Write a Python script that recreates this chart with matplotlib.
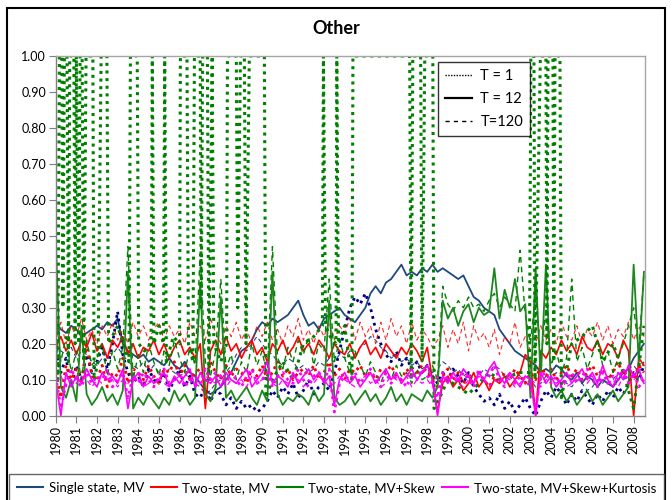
import numpy as np
import matplotlib.pyplot as plt
from matplotlib.lines import Line2D
from matplotlib.patches import Rectangle

plt.rcParams['font.family'] = ['Lato', 'DejaVu Sans']

# quarterly observations, 1980Q1 .. 2008Q3
years = np.arange(1980, 2008.51, 0.25)

# Single state, MV
single_t1 = [0.18, 0.12, 0.16, 0.08, 0.14, 0.10, 0.17, 0.12, 0.15, 0.19, 0.13, 0.20,
             0.29, 0.17, 0.12, 0.09, 0.11, 0.08, 0.13, 0.10, 0.09, 0.12, 0.07, 0.10,
             0.13, 0.08, 0.11, 0.06, 0.05, 0.08, 0.04, 0.07, 0.06, 0.03, 0.05, 0.02,
             0.04, 0.02, 0.03, 0.01, 0.02, 0.04, 0.07, 0.05, 0.08, 0.06, 0.09, 0.05,
             0.07, 0.10, 0.06, 0.08, 0.09, 0.07, 0.12, 0.18, 0.24, 0.30, 0.33, 0.31,
             0.34, 0.30, 0.24, 0.20, 0.17, 0.15, 0.18, 0.14, 0.16, 0.13, 0.15, 0.12,
             0.14, 0.11, 0.09, 0.12, 0.10, 0.13, 0.11, 0.09, 0.12, 0.08, 0.06, 0.04,
             0.05, 0.03, 0.06, 0.02, 0.04, 0.01, 0.03, 0.05, 0.02, 0.00, 0.04, 0.07,
             0.05, 0.08, 0.06, 0.03, 0.06, 0.04, 0.07, 0.05, 0.03, 0.06, 0.04, 0.07,
             0.05, 0.08, 0.06, 0.09, 0.12, 0.10, 0.14]
single_t12 = [0.26, 0.24, 0.23, 0.25, 0.24, 0.22, 0.23, 0.24, 0.25, 0.24, 0.26, 0.25,
              0.27, 0.20, 0.18, 0.17, 0.16, 0.17, 0.15, 0.16, 0.15, 0.14, 0.16, 0.14,
              0.13, 0.15, 0.12, 0.11, 0.09, 0.07, 0.06, 0.07, 0.08, 0.10, 0.12, 0.15,
              0.18, 0.19, 0.21, 0.24, 0.26, 0.25, 0.27, 0.26, 0.27, 0.28, 0.30, 0.32,
              0.28, 0.25, 0.26, 0.24, 0.27, 0.28, 0.29, 0.30, 0.28, 0.27, 0.26, 0.28,
              0.30, 0.34, 0.36, 0.34, 0.37, 0.38, 0.40, 0.42, 0.39, 0.40, 0.39, 0.41,
              0.40, 0.42, 0.40, 0.41, 0.40, 0.39, 0.38, 0.39, 0.36, 0.33, 0.32, 0.30,
              0.29, 0.28, 0.24, 0.22, 0.20, 0.18, 0.17, 0.16, 0.15, 0.14, 0.12, 0.13,
              0.12, 0.14, 0.13, 0.11, 0.10, 0.12, 0.09, 0.11, 0.10, 0.08, 0.10, 0.09,
              0.08, 0.10, 0.12, 0.13, 0.16, 0.18, 0.20]
single_t120 = [0.20, 0.18, 0.17, 0.19, 0.16, 0.18, 0.17, 0.15, 0.14, 0.16, 0.18, 0.17,
               0.19, 0.17, 0.15, 0.14, 0.13, 0.15, 0.12, 0.14, 0.12, 0.11, 0.13, 0.12,
               0.11, 0.12, 0.10, 0.09, 0.08, 0.06, 0.07, 0.09, 0.10, 0.12, 0.14, 0.17,
               0.19, 0.18, 0.20, 0.22, 0.20, 0.18, 0.17, 0.15, 0.14, 0.16, 0.15, 0.13,
               0.14, 0.12, 0.13, 0.15, 0.14, 0.16, 0.15, 0.17, 0.16, 0.18, 0.17, 0.19,
               0.20, 0.22, 0.21, 0.19, 0.18, 0.16, 0.17, 0.15, 0.16, 0.14, 0.15, 0.13,
               0.14, 0.12, 0.13, 0.15, 0.14, 0.12, 0.13, 0.11, 0.12, 0.10, 0.11, 0.13,
               0.12, 0.14, 0.13, 0.11, 0.10, 0.12, 0.11, 0.09, 0.10, 0.08, 0.09, 0.11,
               0.10, 0.12, 0.11, 0.09, 0.08, 0.10, 0.09, 0.07, 0.08, 0.10, 0.09, 0.11,
               0.10, 0.12, 0.11, 0.13, 0.14, 0.12, 0.15]

# Two-state, MV
mv_t1 = [0.12, 0.05, 0.14, 0.10, 0.13, 0.09, 0.20, 0.11, 0.10, 0.14, 0.08, 0.12,
         0.11, 0.16, 0.09, 0.13, 0.12, 0.10, 0.14, 0.11, 0.09, 0.13, 0.12, 0.15,
         0.11, 0.14, 0.10, 0.12, 0.13, 0.09, 0.15, 0.12, 0.10, 0.14, 0.11, 0.13,
         0.12, 0.09, 0.13, 0.11, 0.14, 0.10, 0.12, 0.15, 0.11, 0.13, 0.10, 0.12,
         0.13, 0.11, 0.14, 0.10, 0.12, 0.15, 0.11, 0.13, 0.10, 0.13, 0.12, 0.14,
         0.11, 0.12, 0.10, 0.13, 0.12, 0.14, 0.11, 0.10, 0.13, 0.11, 0.12, 0.14,
         0.12, 0.10, 0.08, 0.11, 0.13, 0.10, 0.12, 0.09, 0.11, 0.09, 0.12, 0.10,
         0.08, 0.11, 0.09, 0.12, 0.10, 0.13, 0.11, 0.09, 0.12, 0.10, 0.14, 0.11,
         0.13, 0.10, 0.12, 0.14, 0.11, 0.13, 0.10, 0.12, 0.14, 0.11, 0.13, 0.10,
         0.12, 0.15, 0.11, 0.13, 0.10, 0.14, 0.12]
mv_t12 = [0.19, 0.22, 0.18, 0.21, 0.17, 0.21, 0.19, 0.23, 0.18, 0.20, 0.16, 0.21,
          0.19, 0.22, 0.17, 0.20, 0.16, 0.19, 0.18, 0.21, 0.17, 0.20, 0.16, 0.19,
          0.21, 0.17, 0.19, 0.16, 0.20, 0.02, 0.18, 0.21, 0.17, 0.22, 0.18, 0.20,
          0.16, 0.19, 0.21, 0.17, 0.19, 0.15, 0.20, 0.18, 0.21, 0.17, 0.19, 0.22,
          0.18, 0.20, 0.17, 0.21, 0.19, 0.16, 0.20, 0.18, 0.17, 0.20, 0.16, 0.19,
          0.21, 0.17, 0.19, 0.16, 0.20, 0.18, 0.16, 0.19, 0.17, 0.20, 0.18, 0.15,
          0.19, 0.10, 0.01, 0.09, 0.11, 0.08, 0.10, 0.07, 0.09, 0.12, 0.08, 0.10,
          0.07, 0.10, 0.09, 0.11, 0.08, 0.10, 0.12, 0.17, 0.15, 0.00, 0.18, 0.16,
          0.19, 0.17, 0.21, 0.18, 0.20, 0.17, 0.22, 0.19, 0.18, 0.21, 0.17, 0.20,
          0.19, 0.16, 0.21, 0.18, 0.00, 0.16, 0.14]
mv_t120 = [0.21, 0.26, 0.20, 0.25, 0.22, 0.27, 0.21, 0.24, 0.20, 0.25, 0.22, 0.26,
           0.21, 0.24, 0.20, 0.26, 0.22, 0.25, 0.21, 0.24, 0.26, 0.21, 0.25, 0.22,
           0.24, 0.20, 0.26, 0.22, 0.25, 0.21, 0.27, 0.23, 0.20, 0.25, 0.22, 0.26,
           0.21, 0.24, 0.20, 0.25, 0.22, 0.26, 0.21, 0.24, 0.20, 0.25, 0.22, 0.27,
           0.21, 0.24, 0.20, 0.25, 0.22, 0.26, 0.21, 0.25, 0.23, 0.27, 0.21, 0.26,
           0.22, 0.25, 0.20, 0.26, 0.21, 0.27, 0.22, 0.25, 0.20, 0.26, 0.21, 0.24,
           0.22, 0.19, 0.21, 0.25, 0.19, 0.24, 0.20, 0.26, 0.18, 0.25, 0.21, 0.23,
           0.19, 0.24, 0.17, 0.22, 0.20, 0.26, 0.19, 0.22, 0.18, 0.20, 0.25, 0.21,
           0.24, 0.20, 0.26, 0.22, 0.21, 0.25, 0.20, 0.24, 0.22, 0.26, 0.21, 0.25,
           0.20, 0.24, 0.22, 0.26, 0.21, 0.25, 0.22]

# Two-state, MV+Skew (T=1 switches regime, kept at its turning points)
skew_t1_years = [1980.00, 1980.10, 1980.18, 1980.30, 1980.35, 1980.42, 1980.55, 1980.62,
                 1980.68, 1980.88, 1980.94, 1981.00, 1981.12, 1981.18, 1981.28, 1981.36,
                 1981.47, 1981.80, 1981.86, 1982.05, 1982.20, 1982.48, 1982.56, 1983.00,
                 1983.55, 1983.62, 1983.95, 1984.02, 1984.30, 1984.62, 1984.68, 1984.76,
                 1985.00, 1985.22, 1985.28, 1985.36, 1985.70, 1986.00, 1986.04, 1986.36,
                 1986.43, 1986.65, 1986.72, 1987.00, 1987.05, 1987.12, 1987.35, 1987.42,
                 1987.58, 1987.66, 1988.00, 1988.28, 1988.32, 1988.75, 1988.82, 1988.95,
                 1989.14, 1989.22, 1989.38, 1990.11, 1990.18, 1990.50, 1991.00, 1991.50,
                 1992.00, 1992.50, 1992.92, 1992.97, 1993.07, 1993.30, 1993.58, 1993.62,
                 1993.70, 1994.00, 1994.35, 1994.40, 1997.15, 1997.22, 1997.30, 1997.68,
                 1997.75, 1997.88, 1998.27, 1998.33, 1998.60, 1999.00, 2000.00, 2001.00,
                 2001.50, 2002.50, 2002.95, 2003.02, 2003.17, 2003.22, 2003.48, 2003.75,
                 2003.80, 2003.85, 2004.09, 2004.13, 2004.19, 2004.43, 2004.50, 2005.00,
                 2005.50, 2006.00, 2006.50, 2007.00, 2007.50, 2008.00, 2008.50]
skew_t1 = [0.25, 0.10, 1.00, 1.00, 0.30, 1.00, 1.00, 0.15,
           1.00, 1.00, 0.20, 1.00, 0.20, 1.00, 1.00, 0.15,
           1.00, 1.00, 0.10, 0.15, 1.00, 1.00, 0.20, 0.25,
           0.15, 1.00, 1.00, 0.20, 0.18, 0.20, 1.00, 0.20,
           0.25, 0.20, 1.00, 0.15, 0.22, 0.20, 1.00, 1.00,
           0.20, 0.15, 1.00, 1.00, 0.30, 1.00, 1.00, 0.10,
           1.00, 0.20, 0.15, 0.20, 1.00, 1.00, 0.30, 1.00,
           1.00, 0.20, 1.00, 1.00, 0.05, 0.10, 0.15, 0.10,
           0.20, 0.22, 0.25, 1.00, 0.25, 0.22, 0.20, 1.00,
           0.20, 0.25, 0.10, 1.00, 1.00, 0.10, 1.00, 1.00,
           0.15, 1.00, 1.00, 0.02, 0.05, 0.10, 0.06, 0.12,
           0.10, 0.12, 0.12, 1.00, 1.00, 0.10, 1.00, 1.00,
           0.20, 1.00, 1.00, 0.15, 1.00, 1.00, 0.05, 0.20,
           0.22, 0.25, 0.15, 0.20, 0.12, 0.02, 0.25]
skew_t12 = [0.50, 0.08, 0.05, 0.10, 0.04, 0.25, 0.06, 0.03, 0.05, 0.08, 0.04, 0.06,
            0.03, 0.07, 0.40, 0.02, 0.05, 0.03, 0.06, 0.04, 0.02, 0.05, 0.03, 0.07,
            0.04, 0.06, 0.03, 0.05, 0.37, 0.06, 0.04, 0.08, 0.33, 0.05, 0.07, 0.04,
            0.06, 0.08, 0.05, 0.03, 0.07, 0.04, 0.40, 0.06, 0.03, 0.05, 0.04, 0.06,
            0.05, 0.03, 0.07, 0.04, 0.06, 0.32, 0.05, 0.03, 0.04, 0.06, 0.03, 0.05,
            0.07, 0.04, 0.06, 0.03, 0.05, 0.08, 0.04, 0.06, 0.03, 0.06, 0.05, 0.04,
            0.07, 0.05, 0.08, 0.32, 0.27, 0.30, 0.25, 0.29, 0.31, 0.26, 0.30, 0.28,
            0.29, 0.41, 0.27, 0.35, 0.30, 0.38, 0.29, 0.31, 0.05, 0.41, 0.10, 0.42,
            0.08, 0.05, 0.07, 0.04, 0.06, 0.03, 0.05, 0.07, 0.04, 0.06, 0.03, 0.05,
            0.07, 0.04, 0.06, 0.08, 0.42, 0.15, 0.40]
skew_t120 = [0.30, 0.15, 0.22, 0.12, 0.18, 0.10, 0.21, 0.14, 0.16, 0.20, 0.11, 0.18,
             0.13, 0.19, 0.47, 0.10, 0.17, 0.12, 0.20, 0.15, 0.11, 0.18, 0.14, 0.21,
             0.16, 0.12, 0.19, 0.14, 0.45, 0.15, 0.11, 0.18, 0.38, 0.13, 0.17, 0.10,
             0.15, 0.12, 0.20, 0.14, 0.18, 0.11, 0.47, 0.16, 0.13, 0.19, 0.15, 0.21,
             0.17, 0.22, 0.14, 0.20, 0.18, 0.38, 0.15, 0.21, 0.16, 0.12, 0.18, 0.14,
             0.11, 0.15, 0.12, 0.09, 0.13, 0.10, 0.14, 0.11, 0.12, 0.09, 0.13, 0.10,
             0.11, 0.14, 0.10, 0.36, 0.31, 0.29, 0.32, 0.30, 0.33, 0.30, 0.31, 0.29,
             0.32, 0.34, 0.30, 0.33, 0.31, 0.29, 0.46, 0.28, 0.20, 0.34, 0.15, 0.30,
             0.14, 0.18, 0.12, 0.16, 0.38, 0.15, 0.19, 0.13, 0.17, 0.21, 0.14, 0.18,
             0.12, 0.16, 0.20, 0.25, 0.30, 0.18, 0.40]

# Two-state, MV+Skew+Kurtosis
kurt_t1 = [0.11, 0.02, 0.09, 0.13, 0.10, 0.08, 0.12, 0.09, 0.11, 0.10, 0.13, 0.08,
           0.10, 0.12, 0.05, 0.11, 0.09, 0.12, 0.10, 0.08, 0.11, 0.13, 0.09, 0.10,
           0.12, 0.08, 0.10, 0.11, 0.09, 0.13, 0.10, 0.12, 0.11, 0.09, 0.12, 0.10,
           0.08, 0.11, 0.13, 0.09, 0.10, 0.12, 0.08, 0.11, 0.12, 0.10, 0.09, 0.13,
           0.10, 0.08, 0.11, 0.12, 0.10, 0.13, 0.01, 0.09, 0.11, 0.10, 0.12, 0.09,
           0.11, 0.13, 0.10, 0.08, 0.12, 0.09, 0.11, 0.10, 0.08, 0.12, 0.10, 0.13,
           0.11, 0.09, 0.05, 0.12, 0.10, 0.11, 0.09, 0.12, 0.10, 0.08, 0.13, 0.09,
           0.11, 0.14, 0.10, 0.08, 0.12, 0.09, 0.11, 0.10, 0.08, 0.02, 0.11, 0.12,
           0.09, 0.11, 0.08, 0.10, 0.12, 0.09, 0.11, 0.13, 0.10, 0.08, 0.12, 0.09,
           0.11, 0.10, 0.13, 0.09, 0.12, 0.08, 0.10]
kurt_t12 = [0.10, 0.00, 0.12, 0.08, 0.11, 0.09, 0.13, 0.10, 0.08, 0.12, 0.10, 0.11,
            0.09, 0.13, 0.02, 0.10, 0.12, 0.08, 0.11, 0.09, 0.10, 0.12, 0.08, 0.11,
            0.09, 0.11, 0.13, 0.08, 0.12, 0.10, 0.09, 0.11, 0.08, 0.12, 0.10, 0.09,
            0.11, 0.13, 0.08, 0.10, 0.12, 0.15, 0.09, 0.11, 0.10, 0.08, 0.12, 0.09,
            0.11, 0.13, 0.10, 0.12, 0.09, 0.11, 0.03, 0.10, 0.12, 0.09, 0.11, 0.08,
            0.10, 0.12, 0.09, 0.11, 0.13, 0.10, 0.12, 0.09, 0.11, 0.13, 0.10, 0.12,
            0.14, 0.10, 0.00, 0.11, 0.09, 0.12, 0.10, 0.13, 0.11, 0.09, 0.12, 0.10,
            0.13, 0.15, 0.11, 0.09, 0.12, 0.10, 0.08, 0.11, 0.10, 0.00, 0.12, 0.09,
            0.11, 0.08, 0.10, 0.12, 0.09, 0.11, 0.13, 0.10, 0.12, 0.09, 0.14, 0.10,
            0.08, 0.12, 0.10, 0.14, 0.11, 0.13, 0.09]
kurt_t120 = [0.09, 0.11, 0.08, 0.10, 0.09, 0.11, 0.10, 0.08, 0.10, 0.09, 0.11, 0.10,
             0.08, 0.10, 0.09, 0.11, 0.10, 0.08, 0.09, 0.11, 0.10, 0.09, 0.08, 0.10,
             0.11, 0.09, 0.10, 0.08, 0.09, 0.11, 0.10, 0.09, 0.11, 0.08, 0.10, 0.09,
             0.10, 0.08, 0.11, 0.09, 0.10, 0.11, 0.09, 0.08, 0.10, 0.09, 0.11, 0.10,
             0.08, 0.10, 0.09, 0.11, 0.10, 0.08, 0.09, 0.11, 0.10, 0.09, 0.08, 0.10,
             0.11, 0.09, 0.10, 0.08, 0.09, 0.11, 0.10, 0.09, 0.11, 0.08, 0.10, 0.09,
             0.10, 0.08, 0.11, 0.09, 0.10, 0.11, 0.09, 0.08, 0.10, 0.09, 0.11, 0.10,
             0.08, 0.10, 0.09, 0.11, 0.10, 0.08, 0.09, 0.11, 0.10, 0.09, 0.08, 0.10,
             0.11, 0.09, 0.10, 0.08, 0.09, 0.11, 0.10, 0.09, 0.11, 0.08, 0.10, 0.09,
             0.10, 0.08, 0.11, 0.09, 0.10, 0.11, 0.09]

year_ticks = list(range(1980, 2009))
y_ticks = [0.0, 0.1, 0.2, 0.3, 0.4, 0.5, 0.6, 0.7, 0.8, 0.9, 1.0]

navy = '#1F497D'
navy_dot = '#000080'
red = '#FF0000'
green = '#008000'
green_solid = '#1E861E'
magenta = '#FF00FF'
dotted = (0, (1, 1.5))
dashed = (0, (4, 3))

fig = plt.figure(figsize=(6.72, 5.0), dpi=100)
ax = fig.add_axes([55.7 / 672, 1 - 415.7 / 500, (645 - 55.7) / 672, (415.7 - 56) / 500])

# single state
ax.plot(years, single_t120, color=navy, lw=0.8, linestyle=dashed)
ax.plot(years, single_t12, color=navy, lw=1.3)
ax.plot(years, single_t1, color=navy_dot, lw=2.0, linestyle=dotted)
# two-state MV
ax.plot(years, mv_t120, color=red, lw=0.8, linestyle=dashed, alpha=0.85)
ax.plot(years, mv_t12, color=red, lw=1.2)
ax.plot(years, mv_t1, color=red, lw=2.0, linestyle=dotted)
# two-state MV+Skew
ax.plot(years, skew_t120, color=green, lw=1.0, linestyle=dashed)
ax.plot(years, skew_t12, color=green_solid, lw=1.3)
ax.plot(skew_t1_years, skew_t1, color=green, lw=2.2, linestyle=dotted)
# two-state MV+Skew+Kurtosis
ax.plot(years, kurt_t120, color=magenta, lw=0.9, linestyle=dashed)
ax.plot(years, kurt_t12, color=magenta, lw=1.2)
ax.plot(years, kurt_t1, color=magenta, lw=2.0, linestyle=dotted)

ax.set_xlim(1980, 2008.55)
ax.set_ylim(0, 1.0)
ax.set_xticks(year_ticks)
ax.set_xticklabels([str(y) for y in year_ticks], rotation=90, fontsize=9)
ax.set_yticks(y_ticks)
ax.set_yticklabels([f'{v:.2f}' for v in y_ticks], fontsize=9)
ax.tick_params(axis='both', direction='out', length=5, width=0.8, color='#7F7F7F', pad=2)
for side in ['left', 'bottom']:
    ax.spines[side].set_color('#7F7F7F')
    ax.spines[side].set_linewidth(1.0)
for side in ['top', 'right']:
    ax.spines[side].set_color('#A6A6A6')
    ax.spines[side].set_linewidth(1.0)

fig.text(336 / 672, 1 - 28 / 500, 'Other', ha='center', va='center', fontsize=13, fontweight='bold')

# line style legend
style_handles = [Line2D([], [], color='black', lw=1.0, linestyle=(0, (1, 1))),
                 Line2D([], [], color='black', lw=1.6),
                 Line2D([], [], color='black', lw=1.0, linestyle=(0, (3, 3)))]
leg1 = ax.legend(style_handles, ['T = 1', 'T = 12', 'T=120'], loc='upper left',
                 bbox_to_anchor=((438 - 55.7) / 589.3, (415.7 - 62) / 359.7),
                 fontsize=10.5, frameon=True, fancybox=False, edgecolor='black',
                 handlelength=1.8, handletextpad=0.6, labelspacing=0.6,
                 borderpad=0.5, borderaxespad=0)
leg1.get_frame().set_linewidth(1.0)

# model legend
model_handles = [Line2D([], [], color=navy, lw=1.5),
                 Line2D([], [], color=red, lw=1.5),
                 Line2D([], [], color=green, lw=1.5),
                 Line2D([], [], color=magenta, lw=1.5)]
leg2 = fig.legend(model_handles, ['Single state, MV', 'Two-state, MV', 'Two-state, MV+Skew',
                                  'Two-state, MV+Skew+Kurtosis'],
                  loc='upper left', bbox_to_anchor=(9 / 672, 1 - 474 / 500, 655 / 672, 0.0),
                  mode='expand', ncol=4, fontsize=9.5, frameon=True, fancybox=False,
                  edgecolor='#404040', handlelength=2.0, handletextpad=0.4,
                  columnspacing=1.5, borderpad=0.6, borderaxespad=0)
leg2.get_frame().set_linewidth(1.0)

# outer chart frame
fig.patches.append(Rectangle((7 / 672, -0.02), 658 / 672, 1 - 8 / 500 + 0.02,
                             transform=fig.transFigure, fill=False,
                             edgecolor='black', lw=1.5))

fig.savefig('out.png', dpi=100)
